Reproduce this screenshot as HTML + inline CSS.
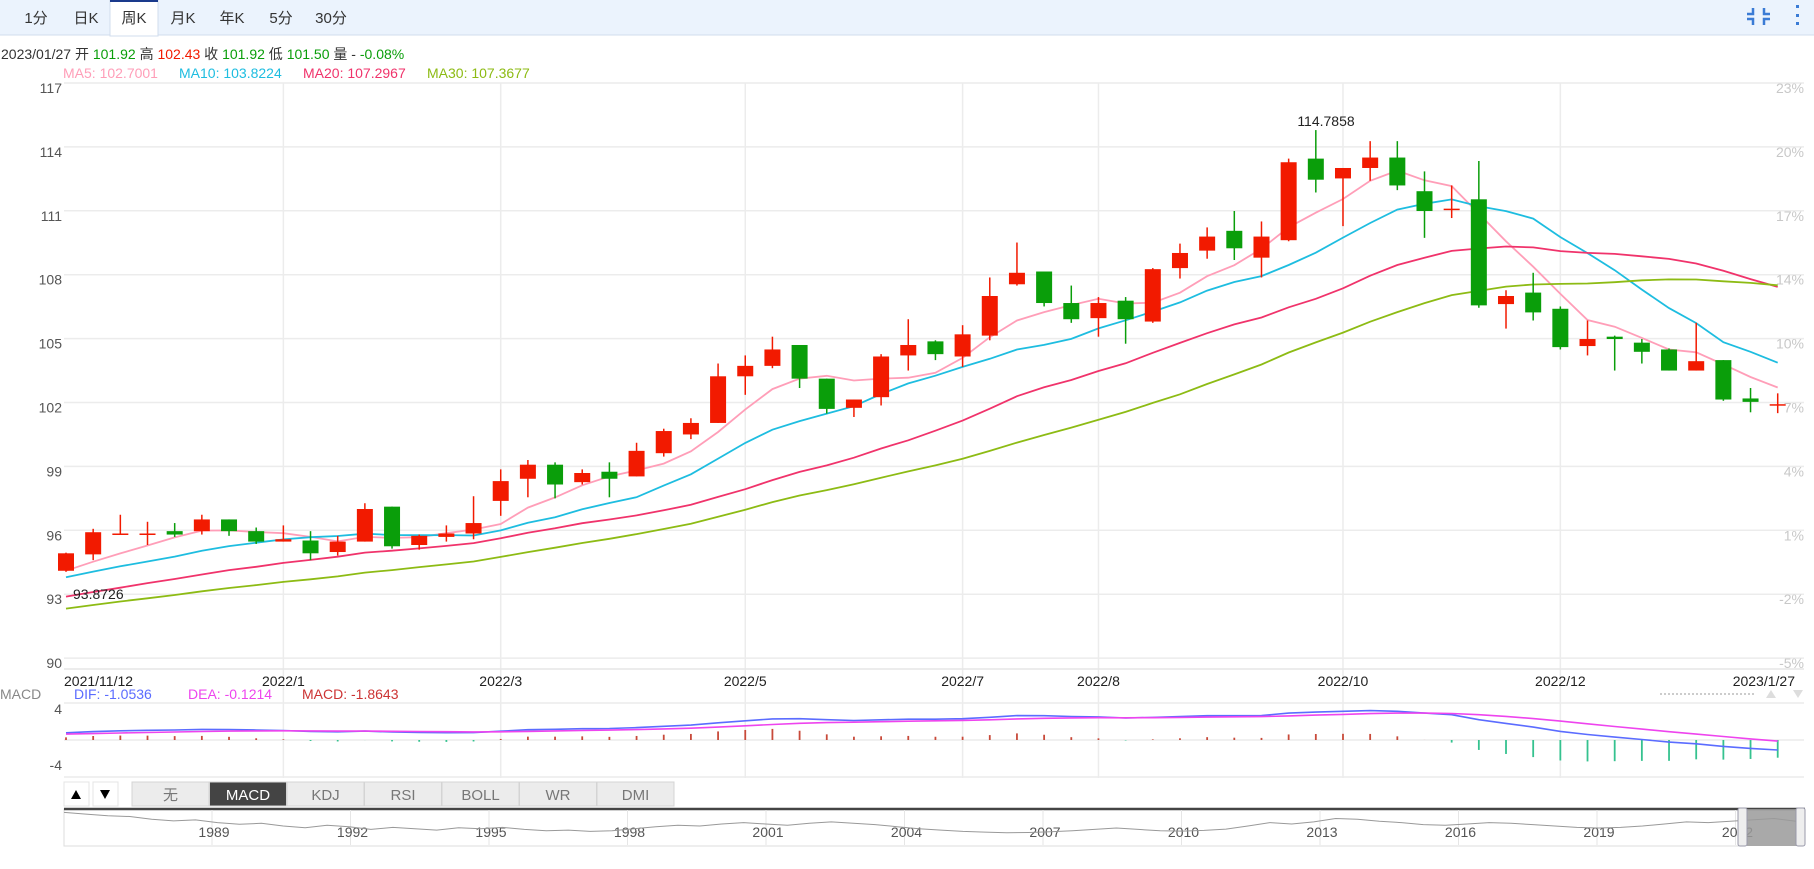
<!DOCTYPE html>
<html><head><meta charset="utf-8"><style>
body{margin:0;background:#fff;width:1814px;height:864px;overflow:hidden;font-family:"Liberation Sans","Noto Sans CJK SC",sans-serif}
svg text{font-family:"Liberation Sans","Noto Sans CJK SC",sans-serif}
</style></head><body>
<svg id="c" width="1814" height="864" xmlns="http://www.w3.org/2000/svg">
<rect x="0" y="0" width="1814" height="35" fill="#ebf3fd"/>
<line x1="0" y1="35" x2="1814" y2="35" stroke="#d0dced"/>
<rect x="110" y="0" width="48" height="36" fill="#fff" stroke="#d0dced"/>
<rect x="110" y="0" width="48" height="2" fill="#1a3a8c"/>
<g font-size="15" fill="#333" text-anchor="middle">
<text x="36" y="23">1分</text>
<text x="86" y="23">日K</text>
<text x="134" y="23">周K</text>
<text x="183" y="23">月K</text>
<text x="232" y="23">年K</text>
<text x="281" y="23">5分</text>
<text x="331" y="23">30分</text>
</g>
<g stroke="#3a7bd5" stroke-width="2.5" fill="none">
<path d="M1753 8v6h-6M1764 8v6h6M1753 25v-6h-6M1764 25v-6h6"/>
</g>
<g fill="#3a7bd5"><rect x="1796" y="5" width="3" height="3"/><rect x="1796" y="14" width="3" height="3"/><rect x="1796" y="22" width="3" height="3"/></g>
<text y="59" font-size="14"><tspan x="1" fill="#333">2023/01/27 开 </tspan><tspan fill="#0a9e0a">101.92</tspan><tspan fill="#333"> 高 </tspan><tspan fill="#f21a00">102.43</tspan><tspan fill="#333"> 收 </tspan><tspan fill="#0a9e0a">101.92</tspan><tspan fill="#333"> 低 </tspan><tspan fill="#0a9e0a">101.50</tspan><tspan fill="#333"> 量 - </tspan><tspan fill="#0a9e0a">-0.08%</tspan></text>
<g font-size="14">
<text x="63" y="78" fill="#ff9eb8">MA5: 102.7001</text>
<text x="179" y="78" fill="#1ebde0">MA10: 103.8224</text>
<text x="303" y="78" fill="#f0336b">MA20: 107.2967</text>
<text x="427" y="78" fill="#8dbb14">MA30: 107.3677</text>
</g>
<g id="grid"></g><g id="ma"></g><g id="candles"></g><g id="macd"></g>
<text x="1326" y="126" font-size="14" fill="#222" text-anchor="middle">114.7858</text>
<text x="73" y="599" font-size="14" fill="#222">93.8726</text>
<g font-size="14">
<text x="0" y="699" fill="#888">MACD</text>
<text x="74" y="699" fill="#5b6cff">DIF: -1.0536</text>
<text x="188" y="699" fill="#ee44ee">DEA: -0.1214</text>
<text x="302" y="699" fill="#cc3333">MACD: -1.8643</text>
</g>
<line x1="1660" y1="694" x2="1755" y2="694" stroke="#ccc" stroke-dasharray="2,2" stroke-width="2"/>
<path d="M1766 698l5-8 5 8z" fill="#ddd"/>
<path d="M1793 690l5 8 5-8z" fill="#ddd"/>
<g id="buttons"></g><g id="nav"></g>
</svg>
<script>
const NS='http://www.w3.org/2000/svg';
function mk(tag,attrs,parent){const e=document.createElementNS(NS,tag);for(const k in attrs)e.setAttribute(k,attrs[k]);parent.appendChild(e);return e;}
const opens=[94.10,94.87,95.80,95.80,95.96,95.96,96.51,95.96,95.47,95.52,94.98,95.47,97.11,95.31,95.69,95.85,97.38,98.42,99.08,98.26,98.75,98.53,99.62,100.50,101.04,103.23,103.72,104.70,103.12,101.75,102.25,104.21,104.87,104.16,105.14,107.55,108.15,106.67,105.96,106.78,105.80,108.31,109.13,110.06,108.80,109.62,113.45,112.52,113.01,113.50,111.92,111.04,111.54,106.62,107.16,106.40,104.65,105.09,104.81,104.49,103.50,103.99,102.19,101.92];
const closes=[94.92,95.91,95.85,95.85,95.80,96.51,95.96,95.47,95.58,94.92,95.47,97.00,95.25,95.74,95.85,96.34,98.31,99.08,98.15,98.69,98.42,99.73,100.66,101.04,103.23,103.72,104.49,103.12,101.70,102.14,104.16,104.70,104.27,105.20,107.00,108.09,106.67,105.91,106.67,105.91,108.26,109.02,109.79,109.24,109.79,113.28,112.46,113.01,113.50,112.19,110.99,111.10,106.56,107.00,106.23,104.60,104.98,104.98,104.38,103.50,103.94,102.14,102.03,101.92];
const highs=[94.95,96.07,96.73,96.40,96.34,96.73,96.51,96.13,96.23,95.96,95.74,97.27,97.11,95.80,96.23,97.60,98.86,99.30,99.19,98.86,99.19,100.11,100.77,101.26,103.83,104.21,105.09,104.70,103.12,102.14,104.27,105.91,104.92,105.63,107.87,109.51,108.15,107.49,106.95,106.95,108.31,109.46,110.22,110.99,110.50,113.45,114.79,113.01,114.27,114.27,112.85,112.19,113.34,107.27,108.09,106.51,105.85,105.14,104.98,104.54,105.74,103.99,102.68,102.43];
const lows=[94.05,94.60,95.80,95.31,95.69,95.80,95.74,95.36,95.47,94.60,94.81,95.47,95.14,95.09,95.47,95.58,96.68,97.55,97.50,98.15,97.55,98.53,99.46,100.28,101.04,102.36,103.61,102.68,101.48,101.32,101.86,103.50,103.99,103.67,104.92,107.49,106.51,105.74,105.09,104.76,105.74,107.82,108.75,108.69,107.87,109.57,111.86,110.28,112.41,111.97,109.73,110.66,106.45,105.47,105.85,104.49,104.21,103.50,103.83,103.50,103.50,102.08,101.54,101.50];
const priorCloses=[90.8,91.0,91.3,91.1,91.4,91.2,91.5,91.0,91.3,91.4,91.6,91.8,91.5,92.0,92.2,91.9,92.3,92.0,92.1,92.4,93.2,93.4,93.6,93.5,93.7,93.8,93.9,94.0,93.9];
const priceTicks=[117,114,111,108,105,102,99,96,93,90];
const pctTicks=['23%','20%','17%','14%','10%','7%','4%','1%','-2%','-5%'];
const dateIdx=[8,16,25,33,38,47,55];
const dateLabels=['2022/1','2022/3','2022/5','2022/7','2022/8','2022/10','2022/12'];
const macdTicks=[4,0,-4];
const navYears=['1989','1992','1995','1998','2001','2004','2007','2010','2013','2016','2019','2022'];
const navValues=[9,8.5,8,7.8,7,6.5,6.8,6,5.5,5.8,5,4.5,5.2,4.8,4,4.6,4.2,3.8,4.5,4.2,4.6,4.0,3.6,3.8,3.4,3.6,4.2,4.8,5.2,5.0,5.6,6.0,5.6,5.2,5.8,6.2,5.8,5.4,4.8,4.2,3.8,3.4,3.2,3.0,3.1,3.3,3.6,4.0,4.4,4.0,3.6,3.5,3.7,4.1,5.0,6.0,5.6,6.2,7.2,7.0,6.4,6.0,5.4,5.2,5.6,6.0,5.8,5.4,5.0,4.6,4.4,4.6,5.0,5.6,6.2,6.0,6.4,6.8,7.2,6.4];
const indicatorTabs=['无','MACD','KDJ','RSI','BOLL','WR','DMI'];

const X0=66,DX=27.17,PL=64,PR=1804;
const xOf=i=>X0+i*DX;
const yOf=p=>83+(117-p)*21.3;
const yM=v=>740-v*9.25;

const grid=document.getElementById('grid');
priceTicks.forEach((p,k)=>{
  const y=yOf(p);
  const l=mk('line',{x1:PL,y1:y,x2:PR,y2:y,stroke:'#ececec','stroke-width':1.5},grid);
  
  
  const t=mk('text',{x:62,y:y+10,'font-size':14,fill:'#555','text-anchor':'end'},grid);t.textContent=p;
  
  
  const r=mk('text',{x:1804,y:y+10,'font-size':14,fill:'#c8c8c8','text-anchor':'end'},grid);r.textContent=pctTicks[k];
  
  
});
dateIdx.forEach((d,k)=>{
  const x=xOf(d);
  const l=mk('line',{x1:x,y1:83,x2:x,y2:778,stroke:'#ececec','stroke-width':1.5},grid);
  
  
  const t=mk('text',{x:x,y:686,'font-size':14,fill:'#222','text-anchor':'middle'},grid);t.textContent=dateLabels[k];
  
  
});
let t0=mk('text',{x:64,y:686,'font-size':14,fill:'#222'},grid);t0.textContent='2021/11/12';


let t1=mk('text',{x:1795,y:686,'font-size':14,fill:'#222','text-anchor':'end'},grid);t1.textContent='2023/1/27';


mk('line',{x1:PL,y1:669,x2:PR,y2:669,stroke:'#e6e6e6','stroke-width':1.5},grid);
macdTicks.forEach(v=>{
  const y=yM(v);
  const l=mk('line',{x1:PL,y1:y,x2:PR,y2:y,stroke:'#ececec','stroke-width':1.5},grid);
  
  
  if(v!==0){const t=mk('text',{x:62,y:v>0?y+11:y-7,'font-size':14,fill:'#555','text-anchor':'end'},grid);t.textContent=v;
  
  }
});

// moving averages
const all=priorCloses.concat(closes),P=priorCloses.length;
function ma(n){return closes.map((c,i)=>{let s=0;for(let k=0;k<n;k++)s+=all[P+i-k];return s/n;});}
const maDefs=[[5,'#ff9eb8','ma5-line'],[10,'#1ebde0','ma10-line'],[20,'#f0336b','ma20-line'],[30,'#8dbb14','ma30-line']];
const mg=document.getElementById('ma');
maDefs.forEach(([n,col,name])=>{
  const v=ma(n);
  const pl=mk('polyline',{points:v.map((m,i)=>xOf(i).toFixed(1)+','+yOf(m).toFixed(1)).join(' '),fill:'none',stroke:col,'stroke-width':1.8},mg);
  
  
});

// candles
const cg=document.getElementById('candles');
closes.forEach((c,i)=>{
  const o=opens[i],up=c>=o,col=up?'#f21a00':'#0a9e0a',x=xOf(i);
  const g=mk('g',{},cg);
  
  
  mk('line',{x1:x,y1:yOf(highs[i]),x2:x,y2:yOf(lows[i]),stroke:col,'stroke-width':1.5},g);
  const top=yOf(Math.max(o,c)),bot=yOf(Math.min(o,c));
  mk('rect',{x:x-8,y:top,width:16,height:Math.max(1.5,bot-top),fill:col},g);
});

// MACD
function ema(arr,n){const a=2/(n+1);const r=[];arr.forEach((v,i)=>r.push(i?a*v+(1-a)*r[i-1]:v));return r;}
const e12=ema(all,12),e26=ema(all,26);
const difAll=e12.map((v,i)=>v-e26[i]);const deaAll=ema(difAll,9);
const dif=difAll.slice(P),dea=deaAll.slice(P);
const mcg=document.getElementById('macd');
dif.forEach((d,i)=>{
  const h=2*(d-dea[i]);const x=xOf(i);
  const b=mk('line',{x1:x,y1:yM(0),x2:x,y2:yM(h),stroke:h>=0?'#c84a3a':'#35c28f','stroke-width':1.8},mcg);
  
  
});
[[dif,'#5b6cff','dif-line'],[dea,'#ee44ee','dea-line']].forEach(([arr,col,name])=>{
  const pl=mk('polyline',{points:arr.map((v,i)=>xOf(i).toFixed(1)+','+yM(v).toFixed(1)).join(' '),fill:'none',stroke:col,'stroke-width':1.6},mcg);
  
  
});

// indicator buttons
const bg=document.getElementById('buttons');
let ub=mk('rect',{x:64,y:782,width:25,height:24,fill:'#fff',stroke:'#e4e4e4'},bg);


mk('path',{d:'M71 799l5-9 5 9z',fill:'#000'},bg);
let db=mk('rect',{x:93,y:782,width:25,height:24,fill:'#fff',stroke:'#e4e4e4'},bg);


mk('path',{d:'M100 790l5 9 5-9z',fill:'#000'},bg);
indicatorTabs.forEach((s,k)=>{
  const x=132+k*77.5,act=s==='MACD';
  const r=mk('rect',{x:x,y:782,width:77,height:24,fill:act?'#444':'#ececec',stroke:'#d4d4d4'},bg);
  
  
  const t=mk('text',{x:x+38.5,y:800,'font-size':15,fill:act?'#fff':'#777','text-anchor':'middle'},bg);t.textContent=s;
});

// navigator
const ng=document.getElementById('nav');
const nb=mk('rect',{x:64,y:809,width:1677,height:37,fill:'#fff',stroke:'#ddd'},ng);


mk('line',{x1:64,y1:809,x2:1805,y2:809,stroke:'#444','stroke-width':2.5},ng);
navYears.forEach((yr,k)=>{
  const x=212+k*138.5;
  mk('line',{x1:x,y1:810,x2:x,y2:845,stroke:'#e6e6e6'},ng);
  const t=mk('text',{x:x+2,y:837,'font-size':14,fill:'#555','text-anchor':'middle'},ng);t.textContent=yr;
  
  
});
const nx0=64,nx1=1796,nStep=(nx1-nx0)/(navValues.length-1);
const np=mk('polyline',{points:navValues.map((v,i)=>(nx0+i*nStep).toFixed(1)+','+(843-v*3.4).toFixed(1)).join(' '),fill:'none',stroke:'#999','stroke-width':1},ng);


const sel=mk('rect',{x:1747,y:809,width:52,height:37,fill:'#9a9a9a',opacity:0.85},ng);


let h1=mk('rect',{x:1738,y:808,width:9,height:38,fill:'#eee',stroke:'#99a',rx:2},ng);


let h2=mk('rect',{x:1796,y:808,width:9,height:38,fill:'#eee',stroke:'#99a',rx:2},ng);


</script>
</body></html>
